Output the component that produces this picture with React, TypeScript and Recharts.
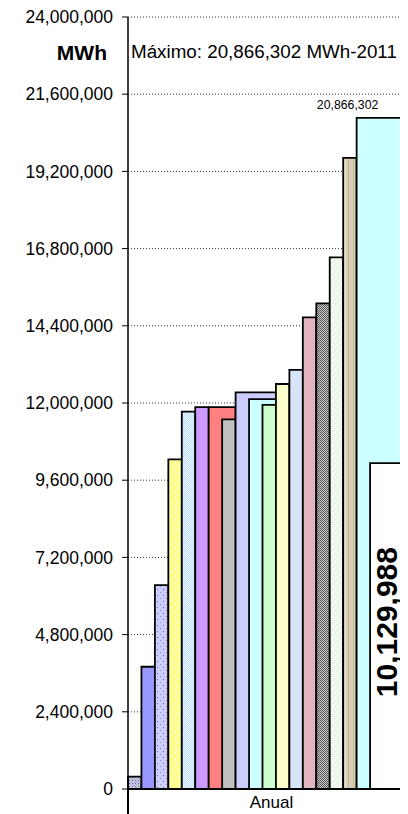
import { ComposedChart, XAxis, YAxis, CartesianGrid, ReferenceArea } from 'recharts';

// one category on the x axis, bars laid out in slot units inside it
const category = 'Anual';

const barValues = [
  382000, 3800000, 6340000, 10250000, 11730000, 11870000, 11870000, 11490000,
  12330000, 12120000, 11940000, 12590000, 13030000, 14660000, 15100000,
  16530000, 19620000, 20866302, 10129988,
];
const slotFrom = [0, 1, 2, 3, 4, 5, 6, 7, 8, 9, 10, 11, 12, 13, 14, 15, 16, 17, 18];
const slotTo = [1, 2, 3, 4, 5, 6, 8, 8, 11, 11, 11, 12, 13, 14, 15, 16, 17, 20.32, 21.34];

const yTicks = [0, 2400000, 4800000, 7200000, 9600000, 12000000, 14400000, 16800000, 19200000, 21600000, 24000000];

const maxValue = 20866302;
const maxYear = 2011;
const lastValue = 10129988;

const fills = [
  'url(#pGrid)', '#9999FF', 'url(#pDots)', 'url(#pDiag)', 'url(#pBlueChk)', '#CC99FF',
  '#FF8080', '#C0C0C0', '#CCCCFF', '#CCFFFF', '#CCFFCC', '#FFFFCC', '#D6E6F8',
  '#E2B6BE', 'url(#pDarkChk)', 'url(#pGreen)', 'url(#pWood)', '#CCFFFF', '#FFFFFF',
];

const fmt = (v: number) => v.toLocaleString('en-US');
const FONT = '"Liberation Sans", Arial, sans-serif';

const maxLabel = (props: any) => {
  const { viewBox } = props;
  return (
    <text x={viewBox.x - 9} y={viewBox.y - 9} textAnchor="middle" fontSize={12.3} fontFamily={FONT} fill="#000">
      {fmt(maxValue)}
    </text>
  );
};

const lastLabel = (props: any) => {
  const { viewBox } = props;
  const cx = viewBox.x + 16;
  const cy = viewBox.y + viewBox.height / 2 - 4;
  return (
    <text
      x={cx}
      y={cy}
      transform={`rotate(-90 ${cx} ${cy})`}
      textAnchor="middle"
      dominantBaseline="central"
      fontSize={30}
      fontWeight="bold"
      fontFamily={FONT}
      fill="#000"
    >
      {fmt(lastValue)}
    </text>
  );
};

export default function App() {
  const data = barValues.map((value, i) => ({ name: category, from: slotFrom[i], to: slotTo[i], value }));

  return (
    <div style={{ position: 'relative', width: 408, height: 814, overflow: 'hidden', marginLeft: -8, marginTop: -8, fontFamily: FONT }}>
      <ComposedChart width={420} height={814} data={data} margin={{ top: 17, right: 5, bottom: 0, left: 0 }}>
        <defs>
          <pattern id="pGrid" width="3" height="3" patternUnits="userSpaceOnUse">
            <rect width="3" height="3" fill="#C8C8E2" />
            <rect width="1" height="1" fill="#6868A0" />
            <rect x="1.5" y="1.5" width="1" height="1" fill="#8888B8" />
          </pattern>
          <pattern id="pDots" width="6" height="6" patternUnits="userSpaceOnUse">
            <rect width="6" height="6" fill="#CCCCFF" />
            <rect x="1" y="1" width="1" height="1" fill="#6666AA" />
            <rect x="4" y="4" width="1" height="1" fill="#8888CC" />
          </pattern>
          <pattern id="pDiag" width="5" height="5" patternUnits="userSpaceOnUse" patternTransform="rotate(45)">
            <rect width="5" height="5" fill="#FFFF80" />
            <rect width="1.5" height="5" fill="#FFFFC8" />
          </pattern>
          <pattern id="pBlueChk" width="2" height="2" patternUnits="userSpaceOnUse">
            <rect width="2" height="2" fill="#BFE0FF" />
            <rect width="1" height="1" fill="#E8F4FF" />
            <rect x="1" y="1" width="1" height="1" fill="#E8F4FF" />
          </pattern>
          <pattern id="pDarkChk" width="2" height="2" patternUnits="userSpaceOnUse">
            <rect width="2" height="2" fill="#D0D0D0" />
            <rect width="1" height="1" fill="#505050" />
            <rect x="1" y="1" width="1" height="1" fill="#505050" />
          </pattern>
          <pattern id="pGreen" width="4" height="4" patternUnits="userSpaceOnUse" patternTransform="rotate(45)">
            <rect width="4" height="4" fill="#F2FAF2" />
            <rect width="1" height="4" fill="#E2F0E2" />
          </pattern>
          <pattern id="pWood" width="13" height="20" patternUnits="userSpaceOnUse">
            <rect width="13" height="20" fill="#DACFB6" />
            <rect x="2" width="1" height="20" fill="#C8BA9C" />
            <rect x="6" width="2" height="20" fill="#E6DDC8" />
            <rect x="10" width="1" height="20" fill="#C4B596" />
          </pattern>
        </defs>
        <CartesianGrid xAxisId="slot" vertical={false} stroke="#333" strokeDasharray="1 2" />
        <XAxis xAxisId="slot" dataKey="to" type="number" domain={[0, 21.34]} allowDataOverflow hide />
        <XAxis
          xAxisId="cat"
          dataKey="name"
          allowDuplicatedCategory={false}
          height={25}
          tickLine={false}
          tickSize={0}
          tickMargin={7}
          axisLine={{ stroke: '#000', strokeWidth: 1.5 }}
          tick={{ fill: '#000', fontSize: 17, fontFamily: FONT }}
        />
        <YAxis
          width={128}
          dataKey="value"
          domain={[0, 24000000]}
          ticks={yTicks}
          interval={0}
          allowDataOverflow
          tickSize={6}
          tickMargin={9}
          axisLine={{ stroke: '#000', strokeWidth: 1.5 }}
          tickLine={{ stroke: '#000' }}
          tick={{ fill: '#000', fontSize: 17.5, fontFamily: FONT }}
          tickFormatter={fmt}
        />
        {data.map((d, i) => (
          <ReferenceArea
            key={i}
            xAxisId="slot"
            x1={d.from}
            x2={d.to}
            y1={0}
            y2={d.value}
            fill={fills[i]}
            fillOpacity={1}
            stroke="#000"
            strokeWidth={1.8}
            ifOverflow="visible"
            label={d.value === maxValue ? { content: maxLabel } : d.value === lastValue ? { content: lastLabel } : undefined}
          />
        ))}
      </ComposedChart>
      <div style={{ position: 'absolute', right: 301, top: 41.5, fontSize: 21, lineHeight: '21px', fontWeight: 'bold', color: '#000' }}>
        MWh
      </div>
      <div style={{ position: 'absolute', left: 131, top: 42, fontSize: 18.8, lineHeight: '19px', color: '#000', whiteSpace: 'nowrap' }}>
        Máximo: {fmt(maxValue)} MWh-{maxYear}
      </div>
      <div style={{ position: 'absolute', left: 127.25, top: 789, width: 1.5, height: 25, background: '#000' }} />
    </div>
  );
}
